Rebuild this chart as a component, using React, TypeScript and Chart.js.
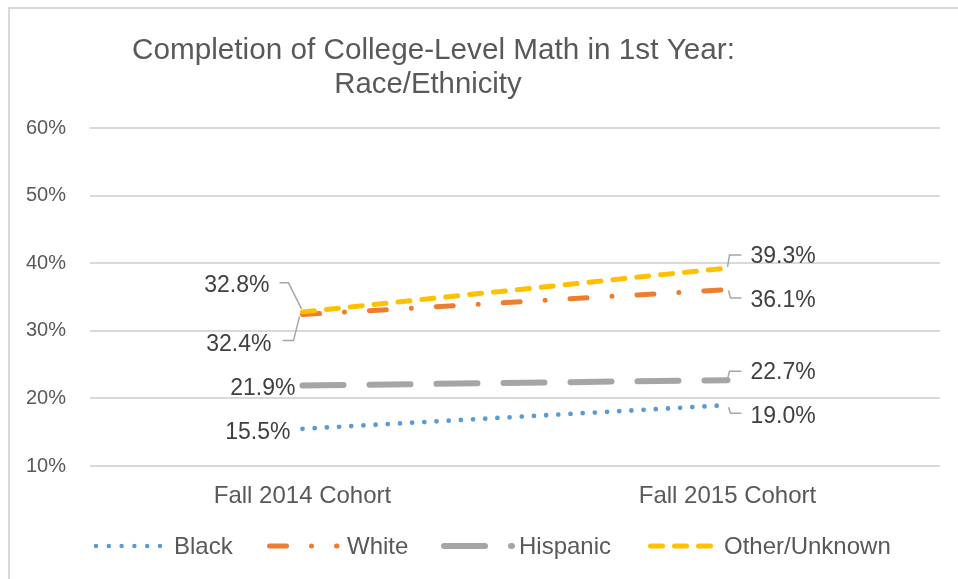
import React, { useEffect, useRef } from "react";
import { Chart, registerables } from "chart.js";

Chart.register(...registerables);

// ---------- data ----------
const categories = ["Fall 2014 Cohort", "Fall 2015 Cohort"];
const seriesNames = ["Black", "White", "Hispanic", "Other/Unknown"];
const blackValues = [15.5, 19.0];
const whiteValues = [32.4, 36.1];
const hispanicValues = [21.9, 22.7];
const otherValues = [32.8, 39.3];
const yMin = 10;
const yMax = 60;
const yStep = 10;
const titleLines = ["Completion of College-Level Math in 1st Year:", "Race/Ethnicity"];

// ---------- styles ----------
const FONT = "'Liberation Sans', Arial, sans-serif";
const TEXT = "#595959";
const LABEL_TEXT = "#404040";
const GRID = "#d9d9d9";
const LEADER = "#a6a6a6";

const seriesStyles = [
  { color: "#5B9BD5", width: 4.8, dash: [0, 12.2], order: 3 },
  { color: "#ED7D31", width: 5, dash: [17, 25, 0, 25], order: 1 },
  { color: "#A5A5A5", width: 6, dash: [41, 26], order: 2 },
  { color: "#FFC000", width: 5, dash: [12, 12], order: 0 },
];

// label placement per dataset, per point
type Place = { dx: number; dy: number; align: CanvasTextAlign; leader?: number[][] };
const labelPlaces: Place[][] = [
  [
    { dx: -12, dy: 10, align: "right" },
    { dx: 23, dy: 18, align: "left", leader: [[1, 2], [3, 8], [14, 8]] },
  ],
  [
    { dx: -31, dy: 36, align: "right", leader: [[-20, 26], [-9, 26], [-3, 2]] },
    { dx: 23, dy: 17.4, align: "left", leader: [[1, 1], [3, 8.5], [14, 8.5]] },
  ],
  [
    { dx: -7, dy: 9.5, align: "right" },
    { dx: 23, dy: -1, align: "left", leader: [[0, -1], [2, -9], [14, -9]] },
  ],
  [
    { dx: -33, dy: -20, align: "right", leader: [[-23, -29], [-14, -29], [-1, -3]] },
    { dx: 23, dy: -5, align: "left", leader: [[0, -1], [2, -13], [14, -13]] },
  ],
];

// legend sample geometry: [lineStart, lineEnd, textX]
const legendPlaces = [
  [96, 160.5, 174],
  [269.5, 337, 347],
  [444, 512, 519],
  [650.5, 711, 724],
];
const legendY = 546;

const overlayPlugin = {
  id: "overlay",
  beforeDraw(chart: any) {
    const ctx = chart.ctx;
    ctx.save();
    ctx.fillStyle = "#ffffff";
    ctx.fillRect(0, 0, chart.width, chart.height);
    ctx.fillStyle = GRID;
    ctx.fillRect(8, 7, chart.width - 8, 2);
    ctx.fillRect(8, 7, 2, chart.height - 7);
    ctx.restore();
  },
  afterDatasetsDraw(chart: any) {
    const ctx = chart.ctx;
    ctx.save();
    chart.data.datasets.forEach((ds: any, i: number) => {
      const meta = chart.getDatasetMeta(i);
      meta.data.forEach((el: any, j: number) => {
        const p = labelPlaces[i][j];
        const v = ds.data[j] as number;
        if (p.leader) {
          ctx.beginPath();
          ctx.strokeStyle = LEADER;
          ctx.lineWidth = 1.5;
          ctx.setLineDash([]);
          p.leader.forEach((pt, k) => {
            const px = el.x + pt[0];
            const py = el.y + pt[1];
            if (k === 0) ctx.moveTo(px, py);
            else ctx.lineTo(px, py);
          });
          ctx.stroke();
        }
        ctx.fillStyle = LABEL_TEXT;
        ctx.font = `23px ${FONT}`;
        ctx.textAlign = p.align;
        ctx.textBaseline = "alphabetic";
        ctx.fillText(v.toFixed(1) + "%", el.x + p.dx, el.y + p.dy);
      });
    });
    ctx.restore();
  },
  afterDraw(chart: any) {
    const ctx = chart.ctx;
    ctx.save();
    // title
    ctx.fillStyle = TEXT;
    ctx.textAlign = "center";
    ctx.textBaseline = "alphabetic";
    ctx.font = `29.7px ${FONT}`;
    ctx.fillText(titleLines[0], 433.5, 59);
    ctx.font = `29.3px ${FONT}`;
    ctx.fillText(titleLines[1], 428, 93);
    // legend
    seriesNames.forEach((name, i) => {
      const s = seriesStyles[i];
      const [x0, x1, tx] = legendPlaces[i];
      ctx.beginPath();
      ctx.strokeStyle = s.color;
      ctx.lineWidth = i === 0 ? 4.5 : s.width;
      ctx.lineCap = "round";
      ctx.setLineDash(i === 0 ? [0, 12.8] : s.dash);
      ctx.moveTo(x0, legendY);
      ctx.lineTo(x1, legendY);
      ctx.stroke();
      ctx.setLineDash([]);
      ctx.fillStyle = TEXT;
      ctx.font = `24px ${FONT}`;
      ctx.textAlign = "left";
      ctx.fillText(name, tx, 554);
    });
    ctx.restore();
  },
};

export default function App() {
  const ref = useRef<HTMLCanvasElement | null>(null);
  useEffect(() => {
    if (!ref.current) return;
    const valueSets = [blackValues, whiteValues, hispanicValues, otherValues];
    const chart = new Chart(ref.current, {
      type: "line",
      data: {
        labels: categories,
        datasets: seriesNames.map((name, i) => ({
          label: name,
          data: valueSets[i],
          borderColor: seriesStyles[i].color,
          backgroundColor: seriesStyles[i].color,
          borderWidth: seriesStyles[i].width,
          borderDash: seriesStyles[i].dash,
          borderCapStyle: "round",
          borderJoinStyle: "round",
          pointRadius: 0,
          pointHoverRadius: 0,
          tension: 0,
          fill: false,
          order: seriesStyles[i].order,
        })),
      },
      options: {
        responsive: false,
        animation: false,
        layout: { padding: { left: 0, right: 18, top: 128, bottom: 53 } },
        plugins: {
          legend: { display: false },
          title: { display: false },
          tooltip: { enabled: false },
        },
        scales: {
          x: {
            offset: true,
            grid: { display: false, drawTicks: false },
            border: { display: false },
            ticks: {
              color: TEXT,
              font: { family: FONT, size: 24 },
              padding: 16,
              maxRotation: 0,
            },
            afterFit(scale: any) {
              scale.height = 60;
            },
          },
          y: {
            min: yMin,
            max: yMax,
            grid: { color: GRID, lineWidth: 2, drawTicks: false },
            border: { display: false },
            ticks: {
              stepSize: yStep,
              color: TEXT,
              font: { family: FONT, size: 20 },
              padding: 24,
              callback: (v: any) => `${v}%`,
            },
            afterFit(scale: any) {
              scale.width = 90;
            },
          },
        },
      },
      plugins: [overlayPlugin],
    } as any);
    return () => chart.destroy();
  }, []);
  return (
    <div style={{ position: "absolute", left: 0, top: 0, width: 958, height: 579 }}>
      <canvas ref={ref} width={958} height={579} style={{ display: "block", width: 958, height: 579 }} />
    </div>
  );
}
